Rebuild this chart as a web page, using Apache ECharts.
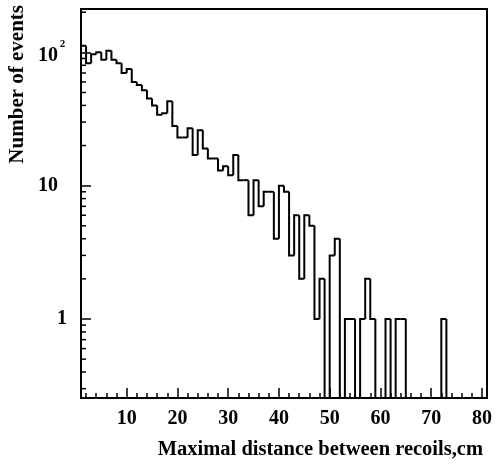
<!DOCTYPE html>
<html>
<head>
<meta charset="utf-8">
<script src="https://cdn.jsdelivr.net/npm/echarts@6/dist/echarts.min.js"></script>
<style>
  html, body { margin: 0; padding: 0; background: #fff; }
  #chart { width: 496px; height: 464px; }
</style>
</head>
<body>
<div id="chart"></div>
<script>
// Histogram: maximal distance between recoils (1 cm bins from 1 to 81 cm)
const binLowEdges = [];
for (let e = 1; e <= 80; e++) binLowEdges.push(e);
const binWidth = 1;

const eventCounts = [
  112, 83, 97, 100, 88, 103, 88, 83, 70, 75,
  60, 57, 52, 45, 40, 34, 35, 43, 28, 23,
  23, 27, 17, 26, 19, 16, 16, 13, 14, 12,
  17, 11, 11, 6, 11, 7, 9, 9, 4, 10,
  9, 3, 6, 2, 6, 5, 1, 2, 0, 3,
  4, 0, 1, 1, 0, 1, 2, 1, 0, 0,
  1, 0, 1, 1, 0, 0, 0, 0, 0, 0,
  0, 1, 0, 0, 0, 0, 0, 0, 0, 0
];

const xMajorTicks = [10, 20, 30, 40, 50, 60, 70, 80];
const xMinorTicks = [2, 4, 6, 8, 12, 14, 16, 18, 22, 24, 26, 28, 32, 34, 36, 38,
  42, 44, 46, 48, 52, 54, 56, 58, 62, 64, 66, 68, 72, 74, 76, 78];
const yMajorTicks = [1, 10, 100];
const yMinorTicks = [0.3, 0.4, 0.5, 0.6, 0.7, 0.8, 0.9,
  2, 3, 4, 5, 6, 7, 8, 9,
  20, 30, 40, 50, 60, 70, 80, 90, 200];

const xRange = [1, 81];
const yRange = [0.2555, 211.5];

const FONT = 'Liberation Serif';

// step outline items: [low edge, high edge, count, previous count]
const stepData = eventCounts.map((c, i) => [
  binLowEdges[i], binLowEdges[i] + binWidth, c, i > 0 ? eventCounts[i - 1] : 0
]);

const chart = echarts.init(document.getElementById('chart'), null, { renderer: 'canvas' });

const baseX = {
  type: 'value', min: xRange[0], max: xRange[1], position: 'bottom',
  axisLine: { show: true, onZero: false, lineStyle: { color: '#000', width: 2 } },
  splitLine: { show: false }
};

chart.setOption({
  animation: false,
  grid: { left: 81, top: 9, right: 9, bottom: 66, show: true, borderColor: '#000', borderWidth: 2 },
  xAxis: [
    Object.assign({}, baseX, {
      axisTick: { show: true, inside: true, length: 10, customValues: xMajorTicks,
        lineStyle: { color: '#000', width: 1.5 } },
      axisLabel: {
        margin: 11, color: '#000', fontFamily: FONT, fontWeight: 'bold', fontSize: 20,
        customValues: xMajorTicks
      }
    }),
    Object.assign({}, baseX, {
      axisTick: { show: true, inside: true, length: 5, customValues: xMinorTicks,
        lineStyle: { color: '#000', width: 1.5 } },
      axisLabel: { show: false }
    })
  ],
  yAxis: {
    type: 'log', logBase: 10, min: yRange[0], max: yRange[1],
    axisLine: { show: true, lineStyle: { color: '#000', width: 2 } },
    axisTick: { show: true, inside: true, length: 10, customValues: yMajorTicks,
      lineStyle: { color: '#000', width: 1.5 } },
    splitLine: { show: false },
    axisLabel: {
      margin: 14, color: '#000', fontFamily: FONT, fontWeight: 'bold', fontSize: 20,
      customValues: yMajorTicks,
      formatter: v => {
        const p = Math.round(Math.log10(v));
        if (p === 0) return '{b|1}';
        if (p === 1) return '{b|10}{e| }';
        return '{b|10}{s|' + p + '}';
      },
      rich: {
        b: { fontFamily: FONT, fontWeight: 'bold', fontSize: 20, color: '#000', verticalAlign: 'bottom' },
        s: { fontFamily: FONT, fontWeight: 'bold', fontSize: 11, color: '#000',
          verticalAlign: 'top', width: 9, align: 'left', padding: [0, 0, 16, 0] },
        e: { fontSize: 11, width: 9 }
      }
    }
  },
  graphic: [
    {
      type: 'text', x: 483, y: 450,
      style: {
        text: 'Maximal distance between recoils,cm', textAlign: 'right', textVerticalAlign: 'middle',
        fontFamily: FONT, fontWeight: 'bold', fontSize: 20.5, fill: '#000'
      }
    },
    {
      type: 'text', x: 17.5, y: 5, rotation: Math.PI / 2,
      style: {
        text: 'Number of events', textAlign: 'right', textVerticalAlign: 'middle',
        fontFamily: FONT, fontWeight: 'bold', fontSize: 21, fill: '#000'
      }
    }
  ],
  series: [
    {
      type: 'custom',
      coordinateSystem: 'cartesian2d',
      xAxisIndex: 0,
      encode: { x: [0, 1], y: [2, 3] },
      data: stepData,
      silent: true,
      renderItem: function (params, api) {
        const cs = params.coordSys;
        const bottom = cs.y + cs.height;
        const lo = api.value(0), hi = api.value(1), c = api.value(2), pc = api.value(3);
        const yOf = v => v > 0 ? api.coord([lo, v])[1] : bottom;
        const xl = api.coord([lo, 1])[0], xh = api.coord([hi, 1])[0];
        const pts = [[xl, yOf(pc)], [xl, yOf(c)], [xh, yOf(c)]];
        return {
          type: 'polyline',
          shape: { points: pts },
          style: { stroke: '#000', lineWidth: 2, fill: null }
        };
      }
    },
    {
      type: 'custom',
      coordinateSystem: 'cartesian2d',
      xAxisIndex: 0,
      encode: { x: 0, y: 1 },
      data: yMinorTicks.map(v => [xRange[0], v]),
      silent: true,
      renderItem: function (params, api) {
        const p = api.coord([api.value(0), api.value(1)]);
        return {
          type: 'line',
          shape: { x1: p[0], y1: p[1], x2: p[0] + 5, y2: p[1] },
          style: { stroke: '#000', lineWidth: 1.5 }
        };
      }
    }
  ]
});
</script>
</body>
</html>
